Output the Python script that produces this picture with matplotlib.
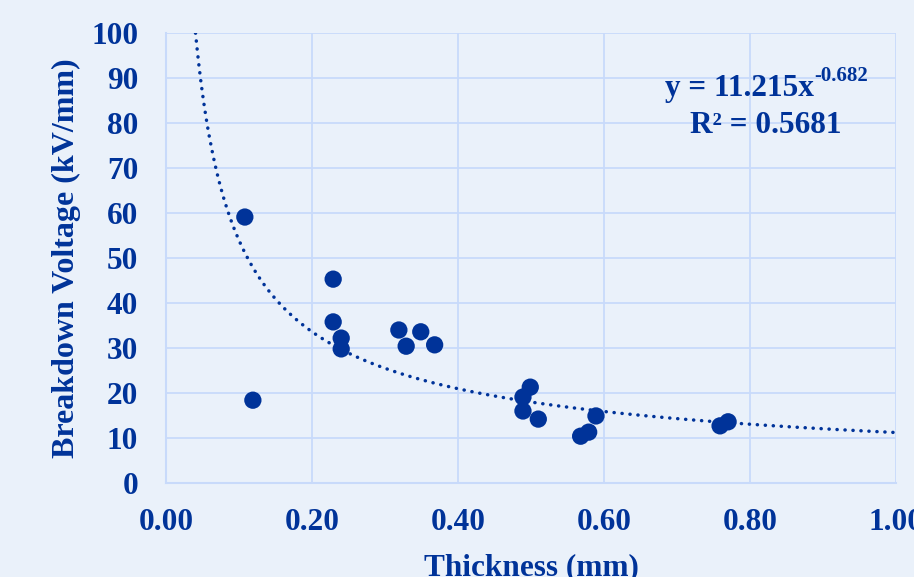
import numpy as np
import matplotlib
matplotlib.use("Agg")
import matplotlib.pyplot as plt

# thickness (mm) vs breakdown voltage (kV/mm)
thickness = [0.108, 0.119, 0.229, 0.229, 0.240, 0.240, 0.319, 0.329, 0.349, 0.368,
             0.489, 0.499, 0.489, 0.510, 0.568, 0.579, 0.589, 0.759, 0.770]
breakdown = [59.1, 18.4, 45.3, 35.8, 32.2, 29.8, 34.0, 30.4, 33.6, 30.7,
             19.1, 21.3, 16.0, 14.2, 10.4, 11.3, 14.9, 12.7, 13.6]

# power trendline as printed on the chart
fit_a, fit_b, fit_r2 = 11.215, -0.682, 0.5681

xticks = [0.0, 0.2, 0.4, 0.6, 0.8, 1.0]
yticks = list(range(0, 101, 10))

BG = "#eaf1fa"
GRID = "#c8dafa"
BLUE = "#003399"
FS = 22.5

plt.rcParams["font.family"] = ["Liberation Serif", "DejaVu Serif"]
plt.rcParams["font.weight"] = "bold"

fig = plt.figure(figsize=(9.14, 5.77), dpi=100, facecolor=BG)
ax = fig.add_axes([166 / 914, 1 - 483 / 577, 730 / 914, 450 / 577])
ax.set_facecolor(BG)

# trendline from where it enters the plot (y=100) to x=1
x0 = (100 / fit_a) ** (1 / fit_b)
xs = np.linspace(x0, 1.0, 400)
ax.plot(xs, fit_a * xs ** fit_b, color=BLUE, lw=2.5,
        linestyle=(0, (0.05, 2.25)), dash_capstyle="round", zorder=3)

ax.scatter(thickness, breakdown, s=155, color=BLUE, edgecolors="none", zorder=4)

ax.set_xlim(0, 1.0)
ax.set_ylim(0, 100)
ax.set_xticks(xticks)
ax.set_xticklabels([f"{v:.2f}" for v in xticks])
ax.set_yticks(yticks)
ax.grid(True, color=GRID, lw=1.3, zorder=0)
ax.set_axisbelow(True)
ax.tick_params(length=0, labelsize=FS, labelcolor=BLUE, pad=18)
ax.tick_params(axis="y", pad=20)
for s in ("top", "right"):
    ax.spines[s].set_visible(False)
for s in ("left", "bottom"):
    ax.spines[s].set_color(GRID)
    ax.spines[s].set_linewidth(1.5)

ax.set_xlabel("Thickness (mm)", fontsize=FS, color=BLUE, fontweight="bold", labelpad=12)
ax.set_ylabel("Breakdown Voltage (kV/mm)", fontsize=23, color=BLUE, fontweight="bold", labelpad=7)

# equation: main part + superscript exponent placed right after it
t1 = ax.text(0.786, 87.6, f"y = {fit_a:.3f}x", color=BLUE,
             fontsize=FS, fontweight="bold", ha="center", va="center")
ax.annotate(f"{fit_b:.3f}", xy=(1.0, 0.6), xycoords=t1, color=BLUE,
            fontsize=15, fontweight="bold", ha="left", va="bottom")
ax.text(0.822, 79.4, f"R² = {fit_r2:.4f}", color=BLUE,
        fontsize=FS, fontweight="bold", ha="center", va="center")

fig.savefig("out.png", dpi=100, facecolor=BG)
